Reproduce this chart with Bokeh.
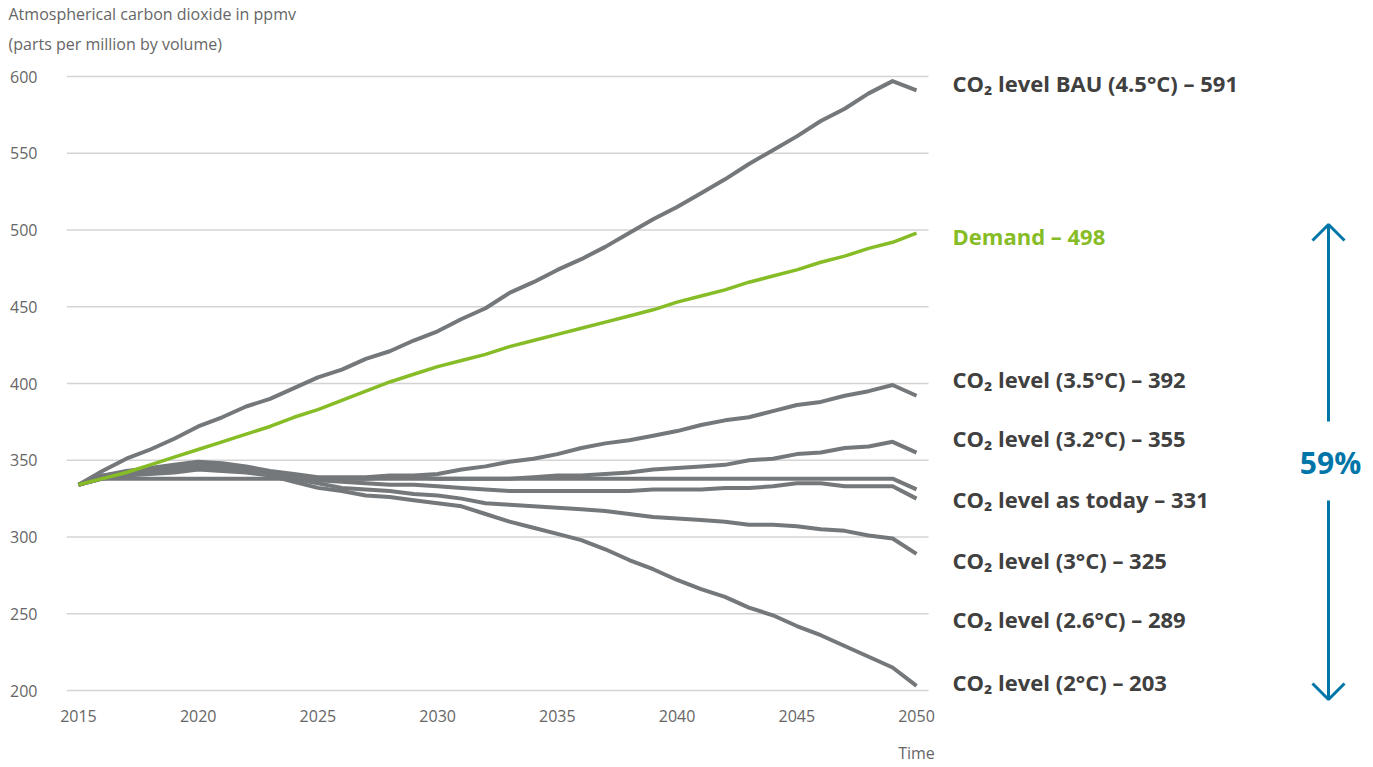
from bokeh.plotting import figure
from bokeh.models import Range1d, FixedTicker, LinearAxis, Title
from bokeh.core.properties import value
from bokeh.embed import file_html
from bokeh.resources import INLINE

# ---------------- data ----------------
years = list(range(2015, 2051))

bau = [334, 343, 351, 357, 364, 372, 378, 385, 390, 397, 404, 409, 416, 421, 428, 434, 442, 449,
       459, 466, 474, 481, 489, 498, 507, 515, 524, 533, 543, 552, 561, 571, 579, 589, 597, 591]
demand = [334, 338, 342, 347, 352, 357, 362, 367, 372, 378, 383, 389, 395, 401, 406, 411, 415, 419,
          424, 428, 432, 436, 440, 444, 448, 453, 457, 461, 466, 470, 474, 479, 483, 488, 492, 498]
c35 = [334, 340, 343, 345, 347, 349, 348, 346, 343, 341, 339, 339, 339, 340, 340, 341, 344, 346,
       349, 351, 354, 358, 361, 363, 366, 369, 373, 376, 378, 382, 386, 388, 392, 395, 399, 392]
c32 = [334, 340, 342, 344, 346, 348, 347, 345, 342, 340, 338, 338, 338, 339, 339, 338, 338, 338,
       338, 339, 340, 340, 341, 342, 344, 345, 346, 347, 350, 351, 354, 355, 358, 359, 362, 355]
today = [334, 338, 338, 338, 338, 338, 338, 338, 338, 338, 338, 338, 338, 338, 338, 338, 338, 338,
         338, 338, 338, 338, 338, 338, 338, 338, 338, 338, 338, 338, 338, 338, 338, 338, 338, 331]
c30 = [334, 339, 341, 343, 344, 346, 345, 344, 342, 340, 337, 336, 335, 334, 334, 333, 332, 331,
       330, 330, 330, 330, 330, 330, 331, 331, 331, 332, 332, 333, 335, 335, 333, 333, 333, 325]
c26 = [334, 339, 341, 342, 343, 345, 344, 343, 341, 338, 335, 332, 331, 330, 328, 327, 325, 322,
       321, 320, 319, 318, 317, 315, 313, 312, 311, 310, 308, 308, 307, 305, 304, 301, 299, 289]
c20 = [334, 338, 340, 341, 342, 344, 343, 342, 340, 336, 332, 330, 327, 326, 324, 322, 320, 315,
       310, 306, 302, 298, 292, 285, 279, 272, 266, 261, 254, 249, 242, 236, 229, 222, 215, 203]

gray_series = [bau, c35, c32, today, c30, c26, c20]

label_texts = [
    "CO\u2082 level BAU (4.5°C) – 591",
    "Demand – 498",
    "CO\u2082 level (3.5°C) – 392",
    "CO\u2082 level (3.2°C) – 355",
    "CO\u2082 level as today – 331",
    "CO\u2082 level (3°C) – 325",
    "CO\u2082 level (2.6°C) – 289",
    "CO\u2082 level (2°C) – 203",
]
y_ticks = [200, 250, 300, 350, 400, 450, 500, 550, 600]
x_ticks = [2015, 2020, 2025, 2030, 2035, 2040, 2045, 2050]
title_lines = ["Atmospherical carbon dioxide in ppmv", "(parts per million by volume)"]
x_title = "Time"

# ---------------- layout ----------------
GRAY = "#75787b"
GREEN = "#86bc25"
BLUE = "#0076a8"
TXT = "#404040"
LIGHT = "#666666"
FONT = "Open Sans"

W, H = 1373, 767
BL = 66                      # frame left edge (px)
FT = 60                      # frame top edge (px)
FB = 701                     # frame bottom edge (px)
PX_YEAR = 862 / 36.0
PX_UNIT = 614 / 400.0
frame_w = W - BL
frame_h = FB - FT
x0 = years[0] - 0.5
x_end = x0 + frame_w / PX_YEAR
y_start = y_ticks[0] - (FB - 690) / PX_UNIT
y_end = y_start + frame_h / PX_UNIT


def X(px):
    return x0 + (px - BL) / PX_YEAR


def Y(py):
    return y_start + (FB - py) / PX_UNIT


p = figure(width=W, height=H, x_range=Range1d(x0, x_end), y_range=Range1d(y_start, y_end),
           output_backend="svg", toolbar_location=None,
           min_border_left=BL, min_border_right=0, min_border_top=FT, min_border_bottom=H - FB)
p.title.visible = False
p.outline_line_color = None
p.xgrid.visible = False
p.ygrid.visible = False

# two-line axis title at the top-left (first added sits closest to the plot)
for line, gap in ((title_lines[1], 12), (title_lines[0], 0)):
    p.add_layout(Title(text=line, align="left", offset=8 - BL, standoff=gap,
                       text_font=FONT, text_font_size="16px", text_font_style="normal",
                       text_color=LIGHT), "above")


def style_axis(ax):
    ax.axis_line_color = None
    ax.major_tick_line_color = None
    ax.minor_tick_line_color = None
    ax.major_tick_out = 0
    ax.major_tick_in = 0
    ax.minor_tick_out = 0
    ax.major_label_text_font = FONT
    ax.major_label_text_font_size = "16px"
    ax.major_label_text_color = LIGHT


style_axis(p.xaxis[0])
style_axis(p.yaxis[0])
p.xaxis.ticker = FixedTicker(ticks=x_ticks)
p.yaxis.ticker = FixedTicker(ticks=y_ticks)
p.xaxis.major_label_standoff = 8
p.yaxis.major_label_standoff = 29

# x axis title "Time", placed under the last year label
time_axis = LinearAxis(ticker=FixedTicker(ticks=[years[-1]]),
                       major_label_overrides={years[-1]: x_title})
style_axis(time_axis)
time_axis.major_label_standoff = 17
p.add_layout(time_axis, "below")

# gridlines only over the data area
n = len(y_ticks)
p.segment(x0=[years[0] - 0.5] * n, x1=[years[-1] + 0.5] * n, y0=y_ticks, y1=y_ticks,
          line_color="#d4d4d4", line_width=1.5)

for s in gray_series:
    p.line(years, s, line_color=GRAY, line_width=4, line_join="round")
p.line(years, demand, line_color=GREEN, line_width=3.5, line_join="round")

# right-hand labels
label_py = [82, 235, 378, 437, 498, 559, 618, 681]
label_colors = [TXT, GREEN, TXT, TXT, TXT, TXT, TXT, TXT]
p.text(x=[X(952)] * len(label_texts), y=[Y(v) for v in label_py], text=label_texts,
       text_font=value(FONT), text_font_style="bold", text_font_size="22px",
       text_color=label_colors, text_align="left", text_baseline="middle")

# arrow with percentage
ax_x = X(1328)
p.segment(x0=[ax_x, ax_x], x1=[ax_x, ax_x], y0=[Y(224), Y(500)], y1=[Y(421), Y(699)],
          line_color=BLUE, line_width=3)
p.multi_line(xs=[[X(1312), ax_x, X(1344)], [X(1312), ax_x, X(1344)]],
             ys=[[Y(240), Y(224), Y(240)], [Y(683), Y(699), Y(683)]],
             line_color=BLUE, line_width=3)
pct = round((demand[-1] - c20[-1]) / demand[-1] * 100)
p.text(x=[X(1330)], y=[Y(462)], text=[f"{pct}%"], text_font=value(FONT),
       text_font_style="bold", text_font_size="30px", text_color=BLUE,
       text_align="center", text_baseline="middle")

open("out.html", "w").write(file_html(p, INLINE))
